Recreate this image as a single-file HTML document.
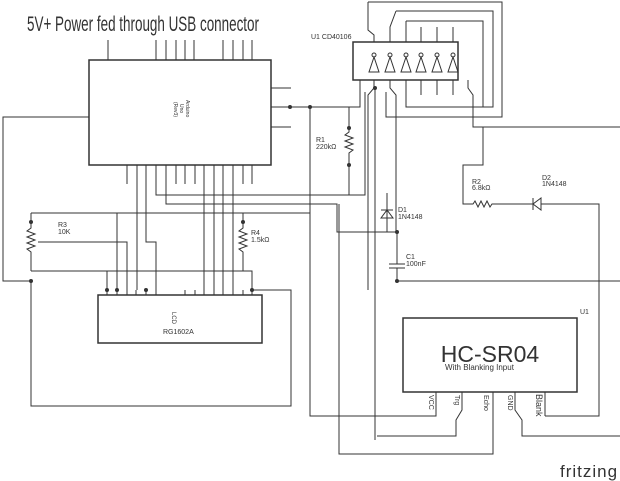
<!DOCTYPE html>
<html><head><style>
html,body{margin:0;padding:0;background:#fff;}
svg{display:block;}
text{font-family:"Liberation Sans",sans-serif;fill:#333;}
</style></head><body>
<svg width="620" height="481" viewBox="0 0 620 481" xmlns="http://www.w3.org/2000/svg">
<text x="27" y="31" font-size="21" textLength="232" lengthAdjust="spacingAndGlyphs" fill="#222">5V+ Power fed through USB connector</text>
<g stroke="#333" stroke-width="1" fill="none">
<!-- Arduino -->
<rect x="89" y="60" width="182" height="105" stroke-width="1.5"/>
<path d="M108 40V60M156 40V60M166 40V60M176 40V60M185 40V60M194 40V60M223 40V60M233 40V60M243 40V60M252 40V60"/>
<path d="M271 88H291M271 107H360V80M271 127H291"/>
<path d="M89 117H3V281H31"/>
<path d="M127 165V184M137 165V184M146 165V184M156 165V184M166 165V184M176 165V184M185 165V184M195 165V184M204 165V184M214 165V184M223 165V184M233 165V184M243 165V184M252 165V184"/>
<path d="M156 184V195H365V92M166 184V204H337V232H397"/>
<path d="M31 213H310M117 213V290M137 184V290M146 184V242H156V290M204 165V290M214 165V290M223 165V290M233 165V290"/>
<!-- R3 -->
<path d="M31 213V228l-4 3 8 3-8 3 8 3-8 3 8 3-8 3 4 3V271"/>
<path d="M38 242H127V290"/>
<path d="M31 271H252V290M107 271V290"/>
<!-- R4 -->
<path d="M243 213V228l-4 3 8 3-8 3 8 3-8 3 8 3-8 3 4 3V271"/>
<!-- LCD -->
<rect x="98" y="295" width="164" height="48" stroke-width="1.5"/>
<path d="M107 290V295M117 290V295M127 290V295M136 290V295M146 290V295M156 290V295M185 290V295M195 290V295M204 290V295M214 290V295M223 290V295M233 290V295M243 290V295M252 290V295"/>
<path d="M31 281V406H291V290H252"/>
<!-- CD40106 -->
<rect x="353" y="42" width="105" height="38" stroke-width="1.5"/>
<path d="M368 2H502V117H386V92M396 11H493V107H406V80M406 21H483V107M406 21V42M421 27V42M437 27V42M453 27V42M421 80V95M437 80V95M453 80V95"/>
<path d="M368 2V30L374 35V42M396 11L390 27V42M374 80V88L368 95V290M375 88V440M390 80V88L396 95V232M468 80V88L473 95V127H620"/>
<!-- inverters -->
<g>
<circle cx="374" cy="55" r="2"/><path d="M374 57L369 72H379Z"/>
<circle cx="390" cy="55" r="2"/><path d="M390 57L385 72H395Z"/>
<circle cx="406" cy="55" r="2"/><path d="M406 57L401 72H411Z"/>
<circle cx="421" cy="55" r="2"/><path d="M421 57L416 72H426Z"/>
<circle cx="437" cy="55" r="2"/><path d="M437 57L432 72H442Z"/>
<circle cx="453" cy="55" r="2"/><path d="M453 57L448 72H458Z"/>
</g>
<!-- R1 -->
<path d="M349 107V132l-4 3 8 3-8 3 8 3-8 3 8 3-4 3V165H349V195"/>
<!-- D1 -->
<path d="M387 193V232M381 210H393M381 218L387 210L393 218Z"/>
<!-- R2/D2 -->
<path d="M483 127V165H463V204H473l2-3 3 6 3-6 3 6 3-6 3 6 2-3H533M533 198V210M541 198V210L533 204Z M541 204H599V416H545"/>
<!-- C1 -->
<path d="M397 232V264M389 264H405M389 268H405M397 268V281H620"/>
<!-- left column -->
<path d="M310 107V416H436V392"/>
<!-- HC-SR04 -->
<rect x="403" y="318" width="174" height="74" stroke-width="1.5"/>
<path d="M462 392V410L456 420V436H377M493 392V454H339V204M515 392V410L522 420V436H620M545 392V416"/>
</g>
<g fill="#333">
<circle cx="290" cy="107" r="2"/><circle cx="310" cy="107" r="2"/><circle cx="349" cy="128" r="2"/><circle cx="349" cy="165" r="2"/>
<circle cx="375" cy="88" r="2"/><circle cx="397" cy="232" r="2"/><circle cx="397" cy="281" r="2"/><circle cx="31" cy="281" r="2"/>
<circle cx="31" cy="222" r="2"/><circle cx="243" cy="222" r="2"/><circle cx="107" cy="290" r="2"/><circle cx="117" cy="290" r="2"/>
<circle cx="146" cy="290" r="2"/><circle cx="252" cy="290" r="2"/>
</g>
<g font-size="7">
<text x="311" y="39">U1 CD40106</text>
<text x="316" y="142">R1</text><text x="316" y="149">220kΩ</text>
<text x="398" y="212">D1</text><text x="398" y="219">1N4148</text>
<text x="472" y="184">R2</text><text x="472" y="190">6.8kΩ</text>
<text x="542" y="180">D2</text><text x="542" y="186">1N4148</text>
<text x="58" y="227">R3</text><text x="58" y="234">10K</text>
<text x="251" y="235">R4</text><text x="251" y="242">1.5kΩ</text>
<text x="406" y="259">C1</text><text x="406" y="266">100nF</text>
<text x="163" y="334">RG1602A</text>
<text x="580" y="314">U1</text>
</g>
<g font-size="5" fill="#444">
<text transform="translate(186,100) rotate(90)">Arduino</text>
<text transform="translate(180,104) rotate(90)">Uno</text>
<text transform="translate(174,102) rotate(90)">(Rev3)</text>
<text transform="translate(172,312) rotate(90)" font-size="6">LCD</text>
</g>
<text x="490" y="362" font-size="23" text-anchor="middle" fill="#111">HC-SR04</text>
<text x="445" y="370" font-size="8" fill="#222">With Blanking Input</text>
<g font-size="7" fill="#222">
<text transform="translate(429,395) rotate(90)">VCC</text>
<text transform="translate(455,395) rotate(90)">Trg</text>
<text transform="translate(484,395) rotate(90)">Echo</text>
<text transform="translate(508,395) rotate(90)">GND</text>
<text transform="translate(536,394) rotate(90)" font-size="9">Blank</text>
</g>
<text x="560" y="477" font-size="17" fill="#999" letter-spacing="1">fritzing</text>
</svg>
</body></html>
